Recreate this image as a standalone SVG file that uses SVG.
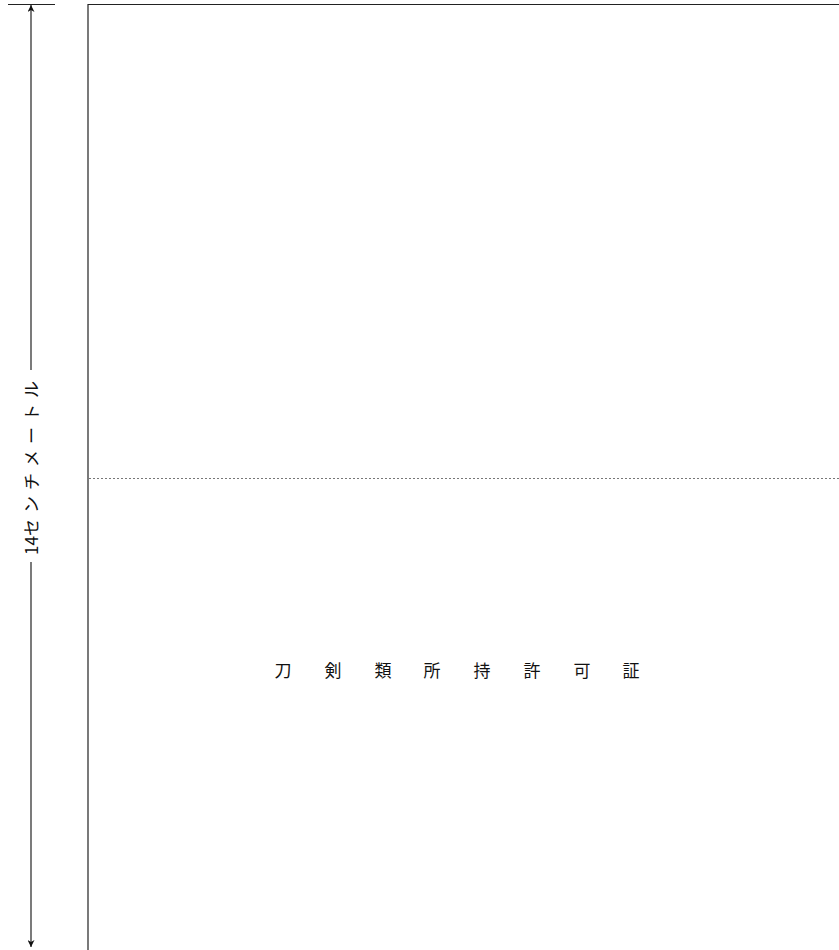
<svg xmlns="http://www.w3.org/2000/svg" width="839" height="950" viewBox="0 0 839 950">
<style>
.ln{stroke:#222;stroke-width:1.2;fill:none}
.dot{stroke:#777;stroke-width:1;stroke-dasharray:2 2;fill:none}
.t{font-family:"Noto Sans CJK JP","Noto Sans",sans-serif;font-size:17px;fill:#111;text-anchor:middle}
.dim{font-family:"Noto Sans CJK JP","Noto Sans",sans-serif;font-size:17px;fill:#111;letter-spacing:6px}
</style>
<defs>
<marker id="ar" viewBox="0 0 10 10" refX="10" refY="5" markerWidth="7" markerHeight="7" orient="auto-start-reverse" markerUnits="userSpaceOnUse">
<path d="M0,0 L10,5 L0,10 L3,5 Z" fill="#111"/>
</marker>
</defs>
<g id="connectors">
<line class="ln" x1="8" y1="4.5" x2="55" y2="4.5"/>
<line class="ln" x1="31" y1="370" x2="31" y2="5" marker-end="url(#ar)"/>
<line class="ln" x1="31" y1="562" x2="31" y2="947" marker-end="url(#ar)"/>
</g>
<g id="dimension-label">
<text class="dim" transform="translate(38,465) rotate(-90)" text-anchor="middle"><tspan letter-spacing="0">14</tspan>センチメートル</text>
</g>
<g id="card">
<polyline class="ln" points="88,950 88,4.5 839,4.5"/>
<line class="dot" x1="89" y1="478.5" x2="839" y2="478.5"/>
</g>
<g id="title">
<text class="t" x="283" y="677">刀</text>
<text class="t" x="333" y="677">剣</text>
<text class="t" x="383" y="677">類</text>
<text class="t" x="432" y="677">所</text>
<text class="t" x="482" y="677">持</text>
<text class="t" x="532" y="677">許</text>
<text class="t" x="582" y="677">可</text>
<text class="t" x="631" y="677">証</text>
</g>
</svg>
